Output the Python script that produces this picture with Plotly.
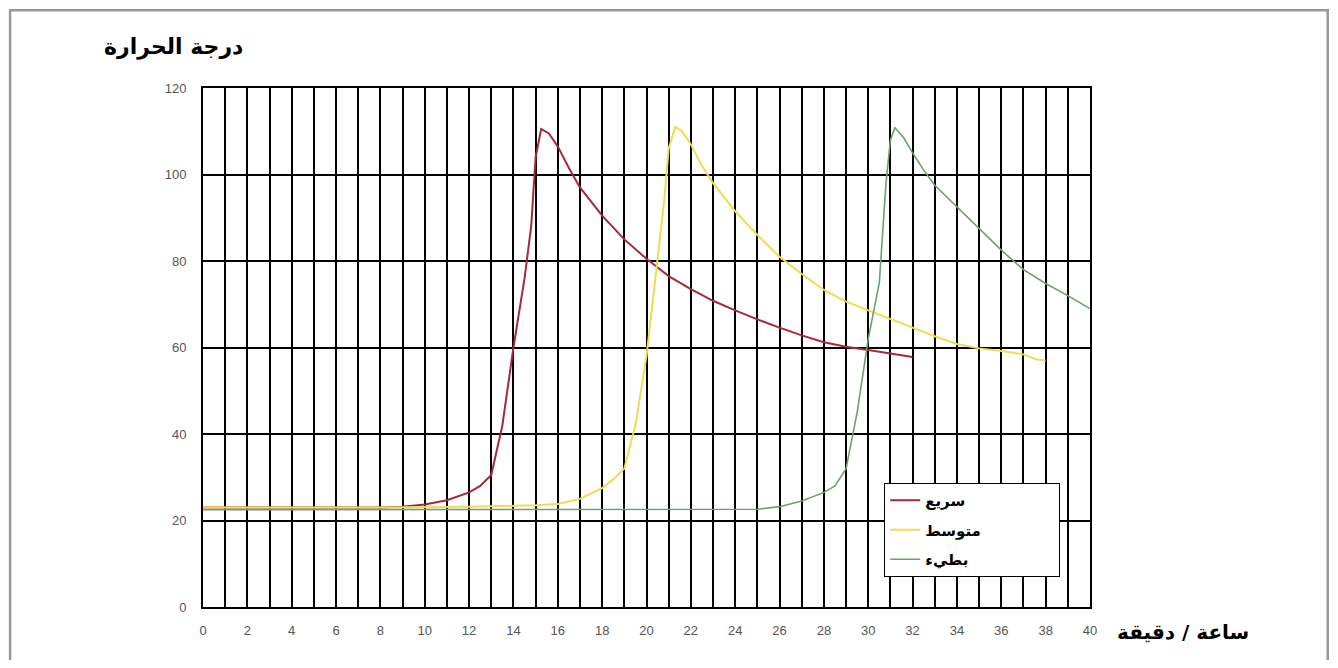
import plotly.graph_objects as go

# ---- data ----
fast_x = [0, 2, 4, 6, 8, 9, 10, 11, 12, 12.5, 13, 13.5, 14, 14.5, 14.8, 15, 15.25, 15.6, 16, 16.5,
          17, 18, 19, 20, 21, 22, 23, 24, 25, 26, 27, 28, 29, 30, 31, 32]
fast_y = [23, 23, 23, 23, 23, 23.2, 23.7, 24.7, 26.5, 28, 30.5, 42, 60, 76, 88, 104, 110.5, 109.5, 106.5, 101.5,
          97, 90.5, 85, 80.5, 76.5, 73.5, 70.8, 68.6, 66.5, 64.6, 62.8, 61.2, 60.2, 59.4, 58.6, 57.8]

medium_x = [0, 4, 8, 12, 14, 15, 16, 17, 18, 18.5, 19, 19.5, 20, 20.5, 20.8, 21, 21.3, 21.6, 22, 22.5,
            23, 24, 25, 26, 27, 28, 29, 30, 31, 32, 33, 34, 35, 36, 37, 37.6, 38]
medium_y = [23, 23, 23, 23.2, 23.3, 23.5, 23.8, 25, 27.5, 29.5, 32, 42, 58, 80, 94, 106, 111, 110, 107, 102,
            98, 91.5, 86, 81, 77, 73.3, 70.6, 68.6, 66.6, 64.6, 62.6, 60.8, 59.8, 59.2, 58.4, 57.2, 57]

slow_x = [0, 5, 10, 15, 20, 24, 25, 26, 27, 28, 28.5, 29, 29.5, 30, 30.5, 30.8, 31, 31.2, 31.6, 32,
          32.5, 33, 34, 35, 36, 37, 38, 39, 40]
slow_y = [22.5, 22.5, 22.5, 22.5, 22.5, 22.5, 22.6, 23.2, 24.5, 26.5, 28, 32, 45, 62, 75, 98, 108, 110.8, 108.5, 105,
          101, 97.5, 92.5, 87.5, 82.5, 78, 74.8, 72, 69]

series_names = ["سريع", "متوسط", "بطيء"]
x_ticks = list(range(0, 41, 2))
y_ticks = list(range(0, 121, 20))
y_title = "درجة الحرارة"
x_title = "ساعة / دقيقة"

colors = ["#A3293E", "#F0DC50", "#6F9E72"]
widths = [2, 2, 1.6]
pad = "\u00a0" * 14

fig = go.Figure()
for i, (xs, ys) in enumerate([(fast_x, fast_y), (medium_x, medium_y), (slow_x, slow_y)]):
    fig.add_trace(go.Scatter(x=xs, y=ys, mode="lines", name=series_names[i] + pad,
                             line=dict(color=colors[i], width=widths[i]),
                             legendgroup=f"g{i}"))

tickfont = dict(family="Liberation Sans, Arial, sans-serif", size=13, color="#555555")

fig.update_layout(
    width=1322, height=652,
    margin=dict(l=195, r=240, t=80, b=53),
    paper_bgcolor="white", plot_bgcolor="white",
    showlegend=True,
    legend=dict(x=0.768, y=0.239, xanchor="left", yanchor="top",
                bgcolor="white", bordercolor="black", borderwidth=1,
                font=dict(family="DejaVu Sans, sans-serif", size=15, color="black", weight="bold"),
                tracegroupgap=7),
    xaxis=dict(range=[0, 40], tickvals=x_ticks, ticktext=[str(v) for v in x_ticks],
               showgrid=True, gridcolor="black", gridwidth=2,
               minor=dict(dtick=1, showgrid=True, gridcolor="black", gridwidth=2),
               showline=True, linecolor="black", linewidth=2, mirror=True,
               zeroline=False, ticks="", tickfont=tickfont, ticklabelstandoff=10),
    yaxis=dict(range=[0, 120], tickvals=y_ticks,
               showgrid=True, gridcolor="black", gridwidth=2,
               showline=True, linecolor="black", linewidth=2, mirror=True,
               zeroline=False, ticks="", tickfont=tickfont, ticklabelstandoff=12),
)

# axis titles
fig.add_annotation(text=y_title, xref="paper", yref="paper", x=0.047, y=1.079,
                   xanchor="right", yanchor="middle", showarrow=False,
                   font=dict(family="DejaVu Sans, sans-serif", size=22, color="black", weight="bold"))
fig.add_annotation(text=x_title, xref="paper", yref="paper", x=1.028, y=-0.048,
                   xanchor="left", yanchor="middle", showarrow=False,
                   font=dict(family="DejaVu Sans, sans-serif", size=20, color="black", weight="bold"))

# outer frame (bottom edge falls outside the picture, as in the reference)
fig.add_shape(type="rect", xref="paper", yref="paper", x0=-0.2175, x1=1.268, y0=-0.25, y1=1.15,
              line=dict(color="#999999", width=2.5), layer="below")

fig.write_html("out.html")
